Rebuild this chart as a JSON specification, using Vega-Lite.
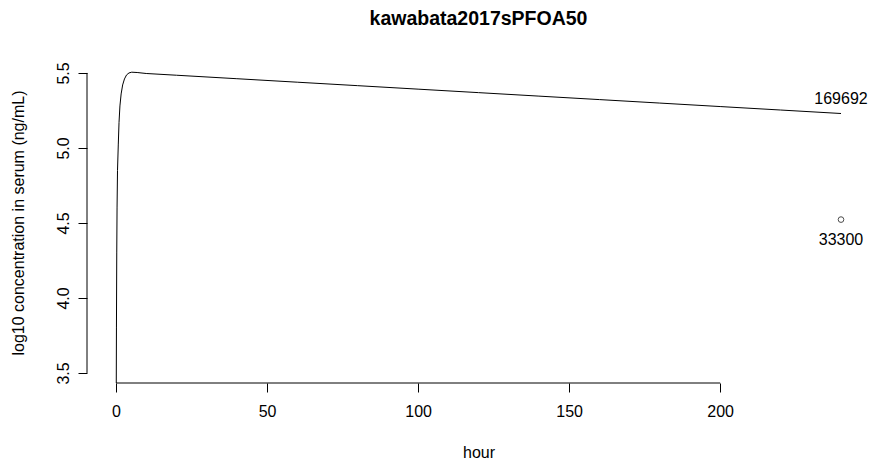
{
  "$schema": "https://vega.github.io/schema/vega-lite/v6.json",
  "width": 783,
  "height": 321,
  "autosize": {"type": "none"},
  "padding": {"left": 87, "top": 62, "right": 0, "bottom": 80},
  "background": "white",
  "config": {
    "view": {"stroke": null},
    "font": "Liberation Sans",
    "axis": {"grid": false, "domain": false, "tickColor": "black", "tickSize": 9, "tickWidth": 1, "labelColor": "black", "titleColor": "black", "labelFontSize": 16, "titleFontSize": 16, "titleFontWeight": "normal", "labelFont": "Liberation Sans", "titleFont": "Liberation Sans"}
  },
  "title": {"text": "kawabata2017sPFOA50", "fontSize": 19.5, "fontWeight": "bold", "font": "Liberation Sans", "color": "black", "anchor": "middle", "frame": "group", "offset": 32},
  "datasets": {
    "curve": [
      {"t": 0.02, "c": 3.0},
      {"t": 0.15, "c": 3.8},
      {"t": 0.25, "c": 4.3},
      {"t": 0.35, "c": 4.6},
      {"t": 0.5, "c": 4.85},
      {"t": 0.75, "c": 5.02},
      {"t": 1.0, "c": 5.17},
      {"t": 1.3, "c": 5.28},
      {"t": 1.7, "c": 5.36},
      {"t": 2.2, "c": 5.42},
      {"t": 2.8, "c": 5.46},
      {"t": 3.5, "c": 5.487},
      {"t": 4.3, "c": 5.5},
      {"t": 5.2, "c": 5.505},
      {"t": 7, "c": 5.503},
      {"t": 10, "c": 5.4964},
      {"t": 20, "c": 5.4848},
      {"t": 40, "c": 5.4616},
      {"t": 60, "c": 5.4384},
      {"t": 80, "c": 5.4152},
      {"t": 100, "c": 5.392},
      {"t": 120, "c": 5.3688},
      {"t": 140, "c": 5.3456},
      {"t": 160, "c": 5.3224},
      {"t": 180, "c": 5.2992},
      {"t": 200, "c": 5.276},
      {"t": 220, "c": 5.2528},
      {"t": 240, "c": 5.2296}
    ],
    "obs": [
      {"t": 240, "c": 4.5224, "label": "33300"}
    ],
    "endlabel": [
      {"t": 240, "c": 5.2296, "label": "169692"}
    ],
    "xaxisline": [
      {"x": 0, "x2": 200, "y": 3.433}
    ],
    "yaxisline": [
      {"x": -9.6, "y": 3.5, "y2": 5.5}
    ]
  },
  "layer": [
    {
      "data": {"name": "curve"},
      "mark": {"type": "line", "color": "black", "strokeWidth": 1, "clip": true},
      "encoding": {
        "x": {"field": "t", "type": "quantitative", "scale": {"domain": [-9.6, 249.6], "nice": false, "zero": false},
              "axis": {"values": [0, 50, 100, 150, 200], "title": "hour", "labelPadding": 11, "titlePadding": 25, "labelFlush": false}},
        "y": {"field": "c", "type": "quantitative", "scale": {"domain": [3.433, 5.573], "nice": false, "zero": false},
              "axis": {"values": [3.5, 4, 4.5, 5, 5.5], "format": ".1f", "labelAngle": -90, "labelPadding": 7, "title": "log10 concentration in serum (ng/mL)", "titlePadding": 29, "labelFlush": false}}
      }
    },
    {
      "data": {"name": "obs"},
      "mark": {"type": "point", "shape": "circle", "filled": false, "color": "black", "size": 32, "strokeWidth": 1},
      "encoding": {
        "x": {"field": "t", "type": "quantitative"},
        "y": {"field": "c", "type": "quantitative"}
      }
    },
    {
      "data": {"name": "obs"},
      "mark": {"type": "text", "fontSize": 16, "color": "black", "baseline": "middle", "align": "center", "dy": 20},
      "encoding": {
        "x": {"field": "t", "type": "quantitative"},
        "y": {"field": "c", "type": "quantitative"},
        "text": {"field": "label"}
      }
    },
    {
      "data": {"name": "endlabel"},
      "mark": {"type": "text", "fontSize": 16, "color": "black", "baseline": "middle", "align": "center", "dy": -15},
      "encoding": {
        "x": {"field": "t", "type": "quantitative"},
        "y": {"field": "c", "type": "quantitative"},
        "text": {"field": "label"}
      }
    },
    {
      "data": {"name": "xaxisline"},
      "mark": {"type": "rule", "color": "black", "strokeWidth": 1},
      "encoding": {
        "x": {"field": "x", "type": "quantitative"},
        "x2": {"field": "x2"},
        "y": {"field": "y", "type": "quantitative"}
      }
    },
    {
      "data": {"name": "yaxisline"},
      "mark": {"type": "rule", "color": "black", "strokeWidth": 1},
      "encoding": {
        "x": {"field": "x", "type": "quantitative"},
        "y": {"field": "y", "type": "quantitative"},
        "y2": {"field": "y2"}
      }
    }
  ]
}
